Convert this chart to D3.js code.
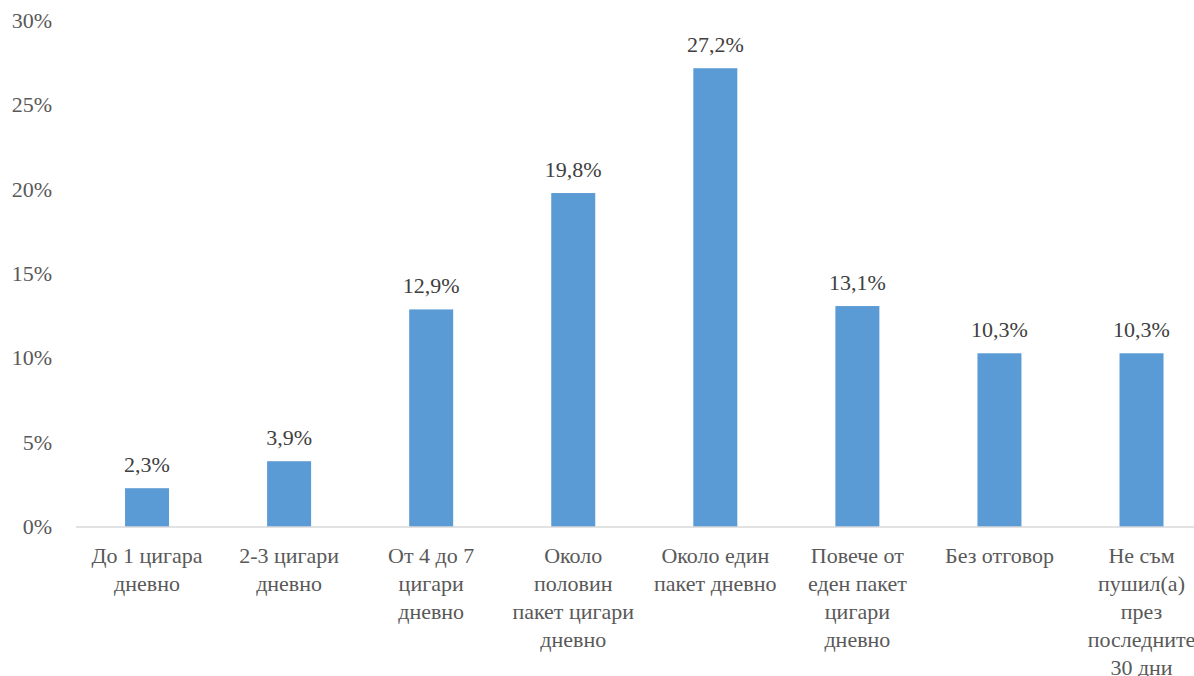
<!DOCTYPE html>
<html>
<head>
<meta charset="utf-8">
<script src="https://cdn.jsdelivr.net/npm/d3@7"></script>
<style>
  html, body { margin: 0; padding: 0; background: #fff; }
  svg { display: block; }
</style>
</head>
<body>
<svg id="chart" width="1194" height="676"></svg>
<script>
// Categories (line breaks mark how each axis label wraps)
const categories = [
  "До 1 цигара\nдневно",
  "2-3 цигари\nдневно",
  "От 4 до 7\nцигари\nдневно",
  "Около\nполовин\nпакет цигари\nдневно",
  "Около един\nпакет дневно",
  "Повече от\nеден пакет\nцигари\nдневно",
  "Без отговор",
  "Не съм\nпушил(а)\nпрез\nпоследните\n30 дни"
];
const values = [2.3, 3.9, 12.9, 19.8, 27.2, 13.1, 10.3, 10.3];
const yTicks = [0, 5, 10, 15, 20, 25, 30];

// Pick the first installed serif face, testing each against generic fallbacks
const ctx = document.createElement("canvas").getContext("2d");
function widthOf(font, s) { ctx.font = font; return ctx.measureText(s).width; }
const probe = "До 1 цигара mmmWWwiil 27,2%";
const candidates = ["Liberation Serif", "Times New Roman", "Tinos", "Noto Serif", "DejaVu Serif", "FreeSerif"];
let face = "serif";
for (const c of candidates) {
  const a = widthOf(`40px "${c}", monospace`, probe);
  const b = widthOf(`40px "${c}", sans-serif`, probe);
  const m = widthOf("40px monospace", probe);
  const s = widthOf("40px sans-serif", probe);
  if (a === b && (a !== m || b !== s)) { face = c; break; }
}
const FONT = `"${face}", serif`;
// Size the text so the widest single-line axis label keeps its width
const fs = Math.min(22, 22 * 120 / widthOf(`22px ${FONT}`, "До 1 цигара"));

const svg = d3.select("#chart");
const left = 76, baseY = 527, topY = 21;
const step = 142.07;

const x = d3.scaleBand()
  .domain(categories)
  .range([left, left + step * categories.length])
  .padding(0);
const y = d3.scaleLinear().domain([0, 30]).range([baseY, topY]);
const barW = 44;

// y tick labels
svg.append("g").selectAll("text")
  .data(yTicks).join("text")
  .attr("x", 52)
  .attr("y", d => y(d) + 7)
  .attr("text-anchor", "end")
  .attr("font-family", FONT)
  .attr("font-size", fs)
  .attr("fill", "#595959")
  .text(d => d + "%");

// bars
svg.append("g").selectAll("rect")
  .data(values).join("rect")
  .attr("x", (d, i) => x(categories[i]) + x.bandwidth() / 2 - barW / 2)
  .attr("y", d => y(d))
  .attr("width", barW)
  .attr("height", d => y(0) - y(d))
  .attr("fill", "#5b9bd5");

// baseline axis
svg.append("line")
  .attr("x1", left).attr("x2", 1194)
  .attr("y1", y(0)).attr("y2", y(0))
  .attr("stroke", "#d9d9d9").attr("stroke-width", 1.5);

// value labels
svg.append("g").selectAll("text")
  .data(values).join("text")
  .attr("x", (d, i) => x(categories[i]) + x.bandwidth() / 2)
  .attr("y", d => y(d) - 16)
  .attr("text-anchor", "middle")
  .attr("font-family", FONT)
  .attr("font-size", fs)
  .attr("fill", "#404040")
  .text(d => d.toFixed(1).replace(".", ",") + "%");

// category labels
const cat = svg.append("g").selectAll("text")
  .data(categories).join("text")
  .attr("text-anchor", "middle")
  .attr("font-family", FONT)
  .attr("font-size", fs)
  .attr("fill", "#595959");
cat.each(function(d) {
  const cx = x(d) + x.bandwidth() / 2;
  d3.select(this).selectAll("tspan")
    .data(d.split("\n")).join("tspan")
    .attr("x", cx)
    .attr("y", (l, j) => 563 + j * 28)
    .text(l => l);
});
</script>
</body>
</html>
